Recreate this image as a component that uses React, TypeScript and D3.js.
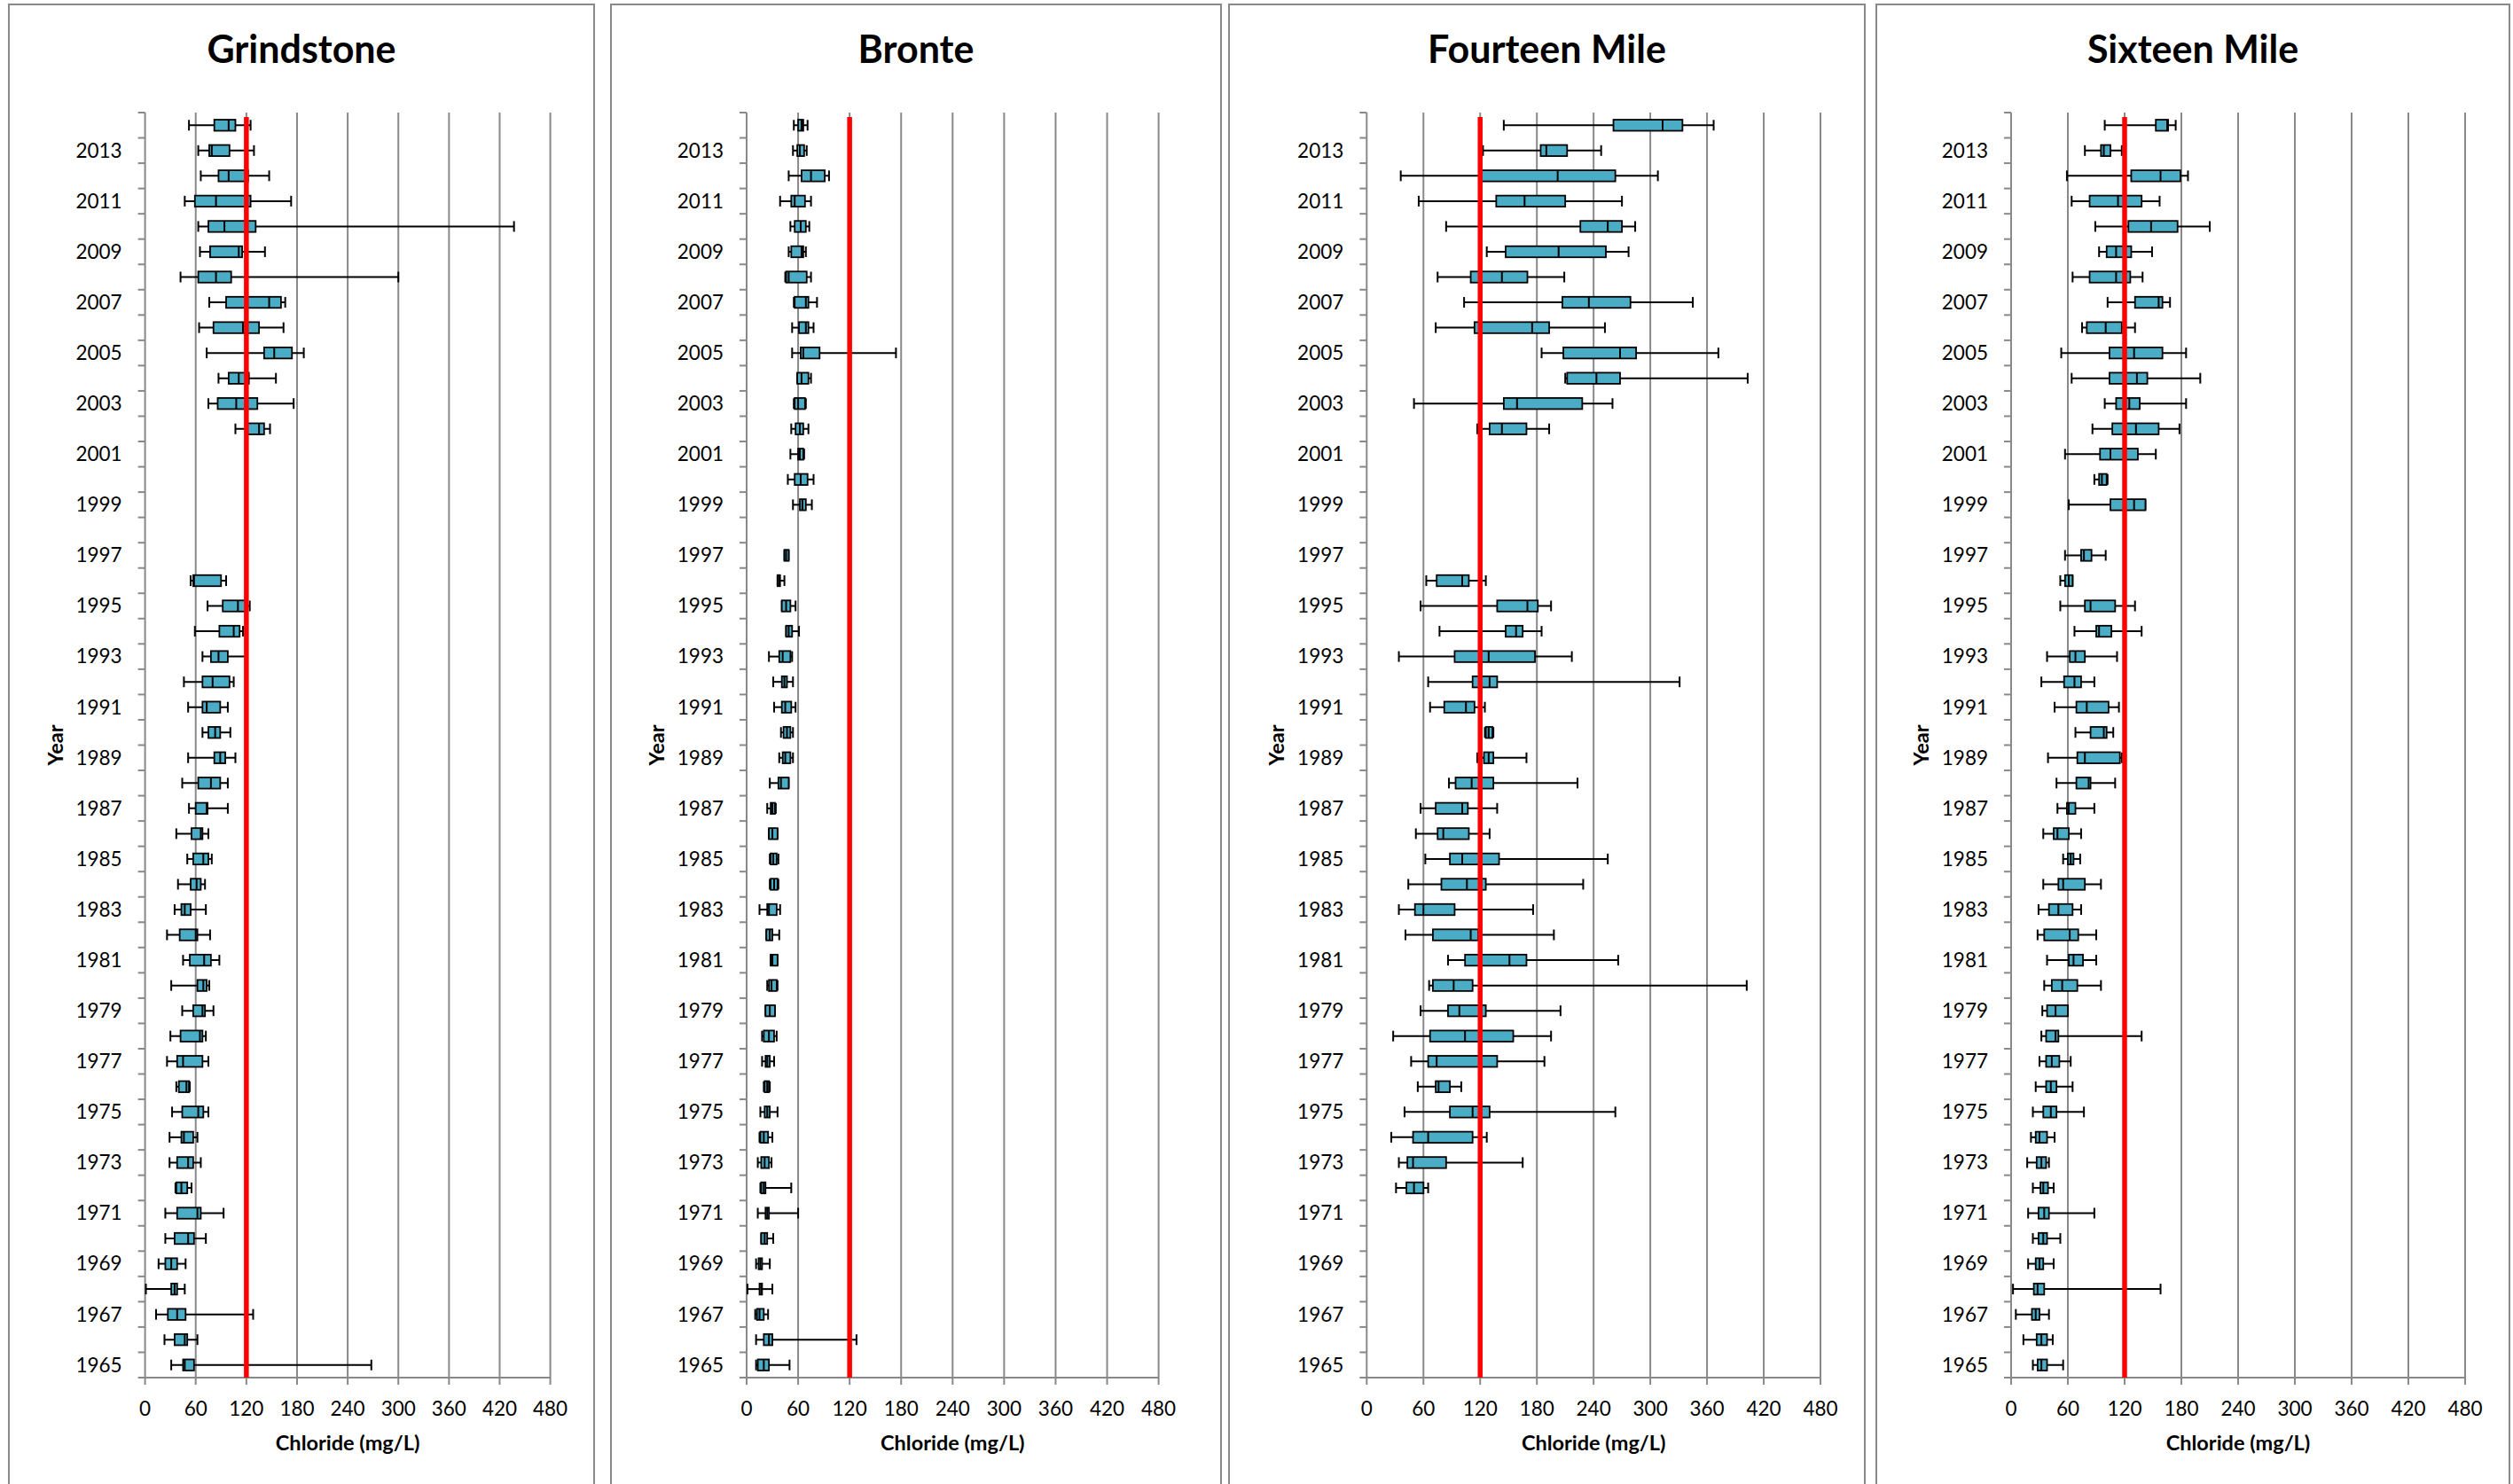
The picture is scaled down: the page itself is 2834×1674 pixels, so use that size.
import * as d3 from "d3"

// [year, whisker low, Q1, median, Q3, whisker high] in mg/L
type Row = [number, number, number, number, number, number]

const years = d3.range(2014, 1964, -1)
const xTicks = [0, 60, 120, 180, 240, 300, 360, 420, 480]
const guideline = 120

const grindstone: Row[] = [
  [2014, 52, 82, 99, 107, 125], [2013, 63, 76, 79, 100, 129], [2012, 66, 87, 99, 122, 147],
  [2011, 47, 59, 84, 125, 173], [2010, 63, 75, 94, 131, 437], [2009, 65, 77, 111, 115, 142],
  [2008, 42, 63, 84, 102, 300], [2007, 76, 96, 147, 161, 166], [2006, 64, 81, 116, 135, 164],
  [2005, 73, 141, 153, 174, 188], [2004, 87, 99, 111, 123, 155], [2003, 75, 86, 108, 133, 176],
  [2002, 107, 121, 135, 141, 148], [1996, 54, 57, 58, 90, 96], [1995, 74, 92, 110, 119, 124],
  [1994, 59, 88, 105, 112, 116], [1993, 68, 78, 87, 98, 121], [1992, 46, 68, 80, 100, 105],
  [1991, 51, 68, 73, 89, 98], [1990, 68, 75, 83, 89, 101], [1989, 51, 82, 89, 95, 107],
  [1988, 44, 63, 78, 89, 98], [1987, 52, 60, 73, 74, 98], [1986, 37, 55, 66, 68, 75],
  [1985, 50, 57, 69, 75, 79], [1984, 39, 54, 61, 66, 71], [1983, 35, 43, 47, 54, 72],
  [1982, 26, 41, 60, 62, 77], [1981, 45, 53, 70, 78, 88], [1980, 31, 62, 69, 73, 76],
  [1979, 44, 57, 68, 71, 81], [1978, 30, 42, 65, 68, 72], [1977, 26, 38, 45, 68, 75],
  [1976, 37, 40, 49, 52, 53], [1975, 32, 44, 63, 69, 75], [1974, 29, 43, 46, 57, 62],
  [1973, 29, 38, 51, 57, 66], [1972, 36, 37, 43, 50, 55], [1971, 24, 38, 62, 66, 93],
  [1970, 24, 35, 51, 58, 72], [1969, 16, 24, 31, 38, 48], [1968, 1, 31, 35, 38, 47],
  [1967, 13, 27, 38, 48, 128], [1966, 23, 35, 47, 50, 62], [1965, 31, 45, 47, 58, 268],
]

const bronte: Row[] = [
  [2014, 55, 60, 64, 66, 71], [2013, 54, 59, 62, 67, 70], [2012, 49, 64, 75, 91, 96],
  [2011, 39, 52, 56, 68, 75], [2010, 51, 56, 63, 69, 73], [2009, 49, 52, 64, 66, 69],
  [2008, 45, 46, 49, 70, 75], [2007, 55, 56, 69, 72, 82], [2006, 53, 61, 69, 72, 78],
  [2005, 53, 63, 66, 85, 174], [2004, 59, 59, 64, 72, 75], [2003, 55, 56, 60, 68, 69],
  [2002, 52, 57, 62, 66, 72], [2001, 51, 60, 62, 66, 67], [2000, 48, 56, 63, 71, 78],
  [1999, 54, 62, 65, 69, 76], [1997, 44, 44, 46, 49, 49], [1996, 36, 36, 38, 39, 44],
  [1995, 41, 41, 46, 51, 57], [1994, 46, 46, 49, 53, 61], [1993, 26, 38, 42, 51, 53],
  [1992, 31, 41, 44, 47, 54], [1991, 32, 41, 45, 52, 57], [1990, 40, 43, 47, 51, 54],
  [1989, 38, 42, 45, 51, 54], [1988, 27, 37, 40, 49, 49], [1987, 24, 28, 30, 33, 34],
  [1986, 26, 26, 30, 36, 36], [1985, 27, 28, 31, 35, 37], [1984, 27, 28, 32, 36, 37],
  [1983, 15, 24, 26, 35, 39], [1982, 23, 23, 27, 30, 38], [1981, 28, 28, 30, 36, 36],
  [1980, 24, 26, 29, 35, 36], [1979, 22, 22, 27, 33, 33], [1978, 18, 20, 26, 32, 35],
  [1977, 18, 22, 24, 27, 32], [1976, 20, 21, 24, 26, 27], [1975, 16, 21, 24, 27, 36],
  [1974, 15, 16, 20, 25, 30], [1973, 13, 17, 21, 26, 29], [1972, 16, 17, 20, 22, 52],
  [1971, 13, 22, 24, 26, 60], [1970, 17, 17, 21, 24, 31], [1969, 11, 14, 16, 18, 27],
  [1968, 1, 15, 17, 18, 30], [1967, 10, 12, 15, 20, 25], [1966, 11, 20, 26, 30, 128],
  [1965, 11, 13, 20, 26, 50],
]

const fourteenMile: Row[] = [
  [2014, 145, 261, 313, 334, 367], [2013, 123, 184, 190, 212, 248], [2012, 36, 121, 202, 263, 308],
  [2011, 55, 137, 167, 210, 270], [2010, 84, 226, 255, 270, 284], [2009, 127, 147, 203, 253, 277],
  [2008, 75, 110, 143, 170, 209], [2007, 103, 207, 235, 279, 345], [2006, 73, 114, 175, 193, 252],
  [2005, 185, 208, 268, 285, 372], [2004, 210, 212, 243, 268, 403], [2003, 50, 145, 159, 228, 260],
  [2002, 117, 130, 143, 169, 193], [1996, 63, 74, 101, 108, 126], [1995, 57, 138, 170, 181, 195],
  [1994, 77, 147, 158, 165, 185], [1993, 34, 93, 129, 178, 217], [1992, 65, 112, 130, 138, 331],
  [1991, 67, 82, 105, 114, 125], [1990, 125, 126, 129, 133, 134], [1989, 117, 124, 129, 134, 169],
  [1988, 87, 94, 111, 134, 223], [1987, 57, 73, 101, 107, 138], [1986, 52, 75, 81, 108, 130],
  [1985, 62, 88, 101, 140, 255], [1984, 44, 79, 106, 126, 229], [1983, 34, 51, 60, 93, 176],
  [1982, 41, 70, 110, 118, 198], [1981, 86, 104, 151, 169, 266], [1980, 66, 70, 92, 112, 402],
  [1979, 57, 86, 98, 126, 205], [1978, 28, 67, 104, 155, 195], [1977, 47, 65, 74, 138, 188],
  [1976, 54, 73, 76, 88, 100], [1975, 40, 88, 112, 130, 263], [1974, 26, 49, 65, 112, 127],
  [1973, 34, 43, 49, 84, 165], [1972, 31, 42, 50, 60, 65],
]

const sixteenMile: Row[] = [
  [2014, 99, 153, 165, 166, 174], [2013, 78, 95, 98, 105, 117], [2012, 59, 127, 158, 179, 187],
  [2011, 64, 83, 113, 138, 157], [2010, 89, 124, 148, 176, 210], [2009, 93, 101, 111, 127, 149],
  [2008, 65, 83, 111, 126, 139], [2007, 102, 131, 156, 160, 168], [2006, 75, 80, 100, 117, 131],
  [2005, 53, 104, 130, 160, 185], [2004, 64, 104, 133, 144, 200], [2003, 99, 111, 125, 136, 185],
  [2002, 86, 107, 132, 156, 178], [2001, 57, 94, 105, 134, 153], [2000, 88, 93, 96, 101, 102],
  [1999, 61, 105, 130, 142, 142], [1997, 57, 74, 77, 85, 100], [1996, 52, 57, 61, 65, 65],
  [1995, 52, 78, 84, 110, 131], [1994, 67, 90, 93, 106, 138], [1993, 38, 62, 68, 78, 112],
  [1992, 32, 56, 67, 74, 88], [1991, 46, 69, 80, 103, 114], [1990, 68, 84, 98, 101, 108],
  [1989, 39, 70, 78, 115, 117], [1988, 48, 69, 82, 84, 110], [1987, 49, 59, 61, 68, 88],
  [1986, 34, 45, 49, 61, 74], [1985, 55, 60, 63, 66, 73], [1984, 34, 50, 55, 78, 95],
  [1983, 29, 40, 50, 65, 74], [1982, 28, 35, 62, 71, 90], [1981, 38, 61, 66, 76, 90],
  [1980, 35, 43, 54, 70, 95], [1979, 33, 38, 47, 60, 60], [1978, 32, 37, 47, 50, 138],
  [1977, 30, 37, 43, 51, 63], [1976, 26, 37, 42, 48, 65], [1975, 23, 34, 42, 48, 77],
  [1974, 21, 26, 30, 38, 46], [1973, 17, 27, 32, 37, 40], [1972, 23, 31, 34, 39, 45],
  [1971, 18, 29, 35, 40, 88], [1970, 23, 29, 34, 38, 52], [1969, 18, 26, 30, 34, 45],
  [1968, 2, 24, 28, 35, 158], [1967, 5, 22, 26, 30, 40], [1966, 13, 27, 32, 38, 44],
  [1965, 23, 28, 32, 38, 55],
]

const panels = [
  { title: "Grindstone", rows: grindstone, frame: [10, 670], plot: [163.6, 620.6] },
  { title: "Bronte", rows: bronte, frame: [689, 1377], plot: [842, 1306.6] },
  { title: "Fourteen Mile", rows: fourteenMile, frame: [1386, 2103], plot: [1541.3, 2053] },
  { title: "Sixteen Mile", rows: sixteenMile, frame: [2116, 2830], plot: [2268, 2780] },
]

const W = 2834
const H = 1674
const top = 127
const bottom = 1554
const font = "Lato, 'Open Sans', sans-serif"
const gridColor = "#898989"
const boxFill = "#4BACC6"

function Panel({ title, rows, frame, plot }: (typeof panels)[number]) {
  const x = d3.scaleLinear().domain([0, 480]).range(plot)
  const y = d3.scaleBand<number>().domain(years).range([top, bottom])
  const bw = y.bandwidth()
  const boxH = 12.5
  const capH = 12

  return (
    <g>
      {/* frame */}
      <rect x={frame[0]} y={5} width={frame[1] - frame[0]} height={H + 20} fill="white" stroke={gridColor} strokeWidth={2} />
      <text x={(frame[0] + frame[1]) / 2} y={71} textAnchor="middle" fontFamily={font} fontWeight={700} fontSize={43}>
        {title}
      </text>

      {/* gridlines */}
      {xTicks.map((t) => (
        <line key={t} x1={x(t)} x2={x(t)} y1={top} y2={bottom} stroke={gridColor} strokeWidth={2} />
      ))}

      {/* y axis ticks and labels */}
      {years.map((yr) => (
        <line key={yr} x1={plot[0] - 8} x2={plot[0]} y1={y(yr)!} y2={y(yr)!} stroke={gridColor} strokeWidth={2} />
      ))}
      {years
        .filter((yr) => yr % 2 === 1)
        .map((yr) => (
          <text key={yr} x={plot[0] - 26} y={y(yr)! + bw / 2} dy="0.35em" textAnchor="end" fontFamily={font} fontSize={22.5}>
            {yr}
          </text>
        ))}

      {/* x axis */}
      <line x1={plot[0] - 8} x2={plot[1]} y1={bottom} y2={bottom} stroke={gridColor} strokeWidth={2} />
      {xTicks.map((t) => (
        <g key={t}>
          <line x1={x(t)} x2={x(t)} y1={bottom} y2={bottom + 8} stroke={gridColor} strokeWidth={2} />
          <text x={x(t)} y={1597} textAnchor="middle" fontFamily={font} fontSize={22.5}>
            {t}
          </text>
        </g>
      ))}
      <text x={(plot[0] + plot[1]) / 2} y={1636} textAnchor="middle" fontFamily={font} fontWeight={700} fontSize={23.5}>
        Chloride (mg/L)
      </text>
      <text
        transform={`translate(${plot[0] - 93}, ${(top + bottom) / 2}) rotate(-90)`}
        textAnchor="middle"
        fontFamily={font}
        fontWeight={700}
        fontSize={23.5}
      >
        Year
      </text>

      {/* box plots */}
      {rows.map(([yr, lo, q1, med, q3, hi]) => {
        const cy = y(yr)! + bw / 2
        return (
          <g key={yr} stroke="#000">
            <line x1={x(lo)} x2={x(hi)} y1={cy} y2={cy} strokeWidth={2} />
            <line x1={x(lo)} x2={x(lo)} y1={cy - capH / 2} y2={cy + capH / 2} strokeWidth={2} />
            <line x1={x(hi)} x2={x(hi)} y1={cy - capH / 2} y2={cy + capH / 2} strokeWidth={2} />
            <rect x={x(q1)} y={cy - boxH / 2} width={Math.max(x(q3) - x(q1), 1)} height={boxH} fill={boxFill} strokeWidth={1.8} />
            <line x1={x(med)} x2={x(med)} y1={cy - boxH / 2} y2={cy + boxH / 2} strokeWidth={2} />
          </g>
        )
      })}

      {/* guideline */}
      <line x1={x(guideline)} x2={x(guideline)} y1={132} y2={bottom} stroke="#FF0000" strokeWidth={5.5} />
    </g>
  )
}

export default function App() {
  return (
    <svg width={W} height={H} style={{ position: "absolute", left: 0, top: 0, background: "white" }}>
      <rect width={W} height={H} fill="white" />
      {panels.map((p) => (
        <Panel key={p.title} {...p} />
      ))}
    </svg>
  )
}
